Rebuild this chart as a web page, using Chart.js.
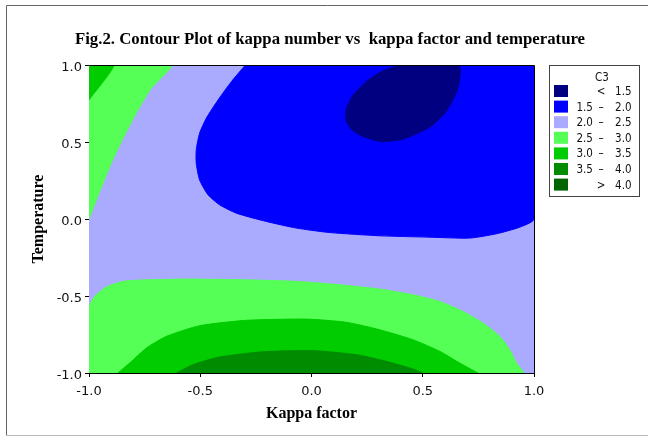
<!DOCTYPE html>
<html>
<head>
<meta charset="utf-8">
<script src="https://cdn.jsdelivr.net/npm/chart.js@4.4.1/dist/chart.umd.min.js"></script>
<style>
  html, body { margin: 0; padding: 0; background: #fff; }
  #c { display: block; }
</style>
</head>
<body>
<canvas id="c" width="648" height="437"></canvas>
<script>
// contour levels of C3 (kappa number)
const levelLow = [null, '1.5', '2.0', '2.5', '3.0', '3.5', null];
const levelMark = ['<', '–', '–', '–', '–', '–', '>'];
const levelHigh = ['1.5', '2.0', '2.5', '3.0', '3.5', '4.0', '4.0'];
const levelColors = ['#000080', '#0000ff', '#aaaaff', '#55ff55', '#00cc00', '#008c00', '#006400'];

const kappaTicks = [-1, -0.5, 0, 0.5, 1];
const tempTicks = [-1, -0.5, 0, 0.5, 1];

// region outlines (x = kappa factor, y = temperature)
// 2.0 - 2.5 : the whole field underneath
const fieldX = [-1, 1, 1, -1];
const fieldY = [-1, -1, 1, 1];
// 2.5 - 3.0 : upper-left strip
const ulGreenX = [-1, -0.630, -0.720, -0.780, -0.847, -0.900, -0.952, -1];
const ulGreenY = [1, 1, 0.849, 0.708, 0.524, 0.362, 0.178, 0];
// 3.0 - 3.5 : upper-left corner
const ulCornerX = [-1, -0.888, -1];
const ulCornerY = [1, 1, 0.773];
// 1.5 - 2.0
const blueX = [-0.297, -0.360, -0.420, -0.473, -0.503, -0.518, -0.518, -0.503, -0.465, -0.413, -0.338, -0.203, -0.068, 0.082, 0.306, 0.531, 0.711, 0.831, 0.936, 1, 1];
const blueY = [1, 0.892, 0.773, 0.654, 0.557, 0.449, 0.362, 0.254, 0.157, 0.092, 0.038, -0.016, -0.059, -0.088, -0.109, -0.118, -0.124, -0.096, -0.053, 0, 1];
// < 1.5
const navyX = [0.396, 0.314, 0.246, 0.187, 0.157, 0.154, 0.179, 0.231, 0.314, 0.411, 0.531, 0.599, 0.643, 0.663, 0.669, 0.663];
const navyY = [1, 0.957, 0.892, 0.805, 0.719, 0.643, 0.583, 0.535, 0.503, 0.518, 0.596, 0.686, 0.795, 0.881, 0.968, 1];
// 2.5 - 3.0 : lower band
const lowGreenX = [-1, -0.975, -0.922, -0.847, -0.742, -0.548, -0.293, -0.068, 0.127, 0.306, 0.456, 0.576, 0.681, 0.771, 0.846, 0.891, 0.921, 0.951, -1];
const lowGreenY = [-0.568, -0.503, -0.442, -0.405, -0.395, -0.390, -0.395, -0.405, -0.427, -0.455, -0.492, -0.535, -0.600, -0.676, -0.762, -0.849, -0.935, -1, -1];
// 3.0 - 3.5
const midGreenX = [-0.870, -0.817, -0.742, -0.652, -0.503, -0.293, -0.023, 0.157, 0.306, 0.456, 0.576, 0.666, 0.748];
const midGreenY = [-1, -0.935, -0.838, -0.762, -0.693, -0.658, -0.650, -0.671, -0.719, -0.784, -0.859, -0.935, -1];
// 3.5 - 4.0
const darkGreenX = [-0.607, -0.533, -0.413, -0.218, 0.007, 0.202, 0.336, 0.456, 0.501];
const darkGreenY = [-1, -0.946, -0.896, -0.862, -0.855, -0.881, -0.924, -0.974, -1];

// bottom layer first
const layers = [
  { name: '2.0 - 2.5', xs: fieldX, ys: fieldY, level: 2 },
  { name: '2.5 - 3.0', xs: ulGreenX, ys: ulGreenY, level: 3 },
  { name: '3.0 - 3.5', xs: ulCornerX, ys: ulCornerY, level: 4 },
  { name: '1.5 - 2.0', xs: blueX, ys: blueY, level: 1 },
  { name: '< 1.5', xs: navyX, ys: navyY, level: 0 },
  { name: '2.5 - 3.0', xs: lowGreenX, ys: lowGreenY, level: 3 },
  { name: '3.0 - 3.5', xs: midGreenX, ys: midGreenY, level: 4 },
  { name: '3.5 - 4.0', xs: darkGreenX, ys: darkGreenY, level: 5 },
];

const datasets = layers.map((l, i) => {
  const col = levelColors[l.level];
  return {
    label: l.name,
    data: l.xs.map((x, j) => ({ x, y: l.ys[j] })),
    showLine: true,
    fill: 'shape',
    backgroundColor: col,
    borderColor: col,
    borderWidth: 1,
    pointRadius: 0,
    tension: 0.2,
    order: layers.length - i,
  };
});

const tickFont = { family: 'DejaVu Sans', size: 13 };
const titleFont = { family: 'Liberation Serif', size: 16, weight: 'bold' };

const decorPlugin = {
  id: 'decor',
  beforeDraw(chart) {
    const ctx = chart.ctx;
    ctx.save();
    ctx.lineWidth = 1;
    ctx.strokeStyle = '#666';
    ctx.beginPath();
    ctx.moveTo(648, 5.5);
    ctx.lineTo(6.5, 5.5);
    ctx.lineTo(6.5, 435);
    ctx.stroke();
    ctx.strokeStyle = '#bbb';
    ctx.beginPath();
    ctx.moveTo(6, 435.5);
    ctx.lineTo(648, 435.5);
    ctx.stroke();
    ctx.restore();
  },
  afterDatasetsDraw(chart) {
    const { ctx, chartArea: a } = chart;
    ctx.save();
    ctx.strokeStyle = '#000';
    ctx.lineWidth = 1;
    ctx.beginPath();
    ctx.moveTo(Math.round(a.left) + 0.5, Math.round(a.top) + 0.5);
    ctx.lineTo(Math.round(a.right) + 0.5, Math.round(a.top) + 0.5);
    ctx.lineTo(Math.round(a.right) + 0.5, Math.round(a.bottom) + 0.5);
    ctx.stroke();
    ctx.restore();
  },
  afterDraw(chart) {
    // C3 legend box
    const ctx = chart.ctx;
    const bx = 549, by = 65, bw = 90, bh = 131;
    ctx.save();
    ctx.strokeStyle = '#444';
    ctx.lineWidth = 1;
    ctx.strokeRect(bx + 0.5, by + 0.5, bw, bh);
    ctx.fillStyle = '#111';
    ctx.font = '11.5px "DejaVu Sans Condensed", "DejaVu Sans"';
    ctx.textBaseline = 'middle';
    ctx.textAlign = 'center';
    ctx.fillText('C3', 602, 78.5);
    for (let i = 0; i < levelColors.length; i++) {
      const y = 85 + i * 15.6;
      ctx.fillStyle = levelColors[i];
      ctx.fillRect(554, y, 14, 12);
      ctx.fillStyle = '#111';
      const ty = y + 7;
      if (levelLow[i]) {
        ctx.textAlign = 'left';
        ctx.fillText(levelLow[i], 576.5, ty);
      }
      ctx.textAlign = 'center';
      ctx.fillText(levelMark[i], 601, ty);
      ctx.textAlign = 'right';
      ctx.fillText(levelHigh[i], 631.5, ty);
    }
    ctx.restore();
  },
};

new Chart(document.getElementById('c'), {
  type: 'scatter',
  data: { datasets },
  options: {
    responsive: false,
    animation: false,
    devicePixelRatio: 1,
    layout: { padding: { left: 12, top: 0, right: 0, bottom: 0 } },
    plugins: {
      legend: { display: false },
      tooltip: { enabled: false },
      title: {
        display: true,
        text: 'Fig.2. Contour Plot of kappa number vs  kappa factor and temperature',
        color: '#000',
        font: { family: 'Liberation Serif', size: 16.8, weight: 'bold' },
        padding: { top: 30, bottom: 14.84 },
      },
    },
    scales: {
      x: {
        type: 'linear',
        min: -1,
        max: 1,
        afterBuildTicks: (s) => { s.ticks = kappaTicks.map((v) => ({ value: v })); },
        afterFit: (s) => { s.height = 64; },
        ticks: { font: tickFont, color: '#111', padding: 7, maxRotation: 0, callback: (v) => Number(v).toFixed(1) },
        grid: { drawOnChartArea: false, drawTicks: true, tickLength: 4, color: '#000' },
        border: { display: true, color: '#000', width: 1 },
        title: { display: true, text: 'Kappa factor', color: '#000', font: titleFont, padding: { top: 0, bottom: 14 } },
      },
      y: {
        type: 'linear',
        min: -1,
        max: 1,
        afterBuildTicks: (s) => { s.ticks = tempTicks.map((v) => ({ value: v })); },
        afterFit: (s) => { s.width = 77; },
        ticks: { font: tickFont, color: '#111', padding: 3, labelOffset: 3, callback: (v) => Number(v).toFixed(1) },
        grid: { drawOnChartArea: false, drawTicks: true, tickLength: 4, color: '#000' },
        border: { display: true, color: '#000', width: 1 },
        title: { display: true, text: 'Temperature', color: '#000', font: titleFont, padding: { top: 17, bottom: 0 } },
      },
      // empty right-hand strip that holds the C3 legend
      legendSpace: {
        type: 'linear',
        position: 'right',
        min: -1,
        max: 1,
        afterFit: (s) => { s.width = 114; },
        ticks: { display: false },
        grid: { display: false },
        border: { display: false },
      },
    },
  },
  plugins: [decorPlugin],
});
</script>
</body>
</html>
